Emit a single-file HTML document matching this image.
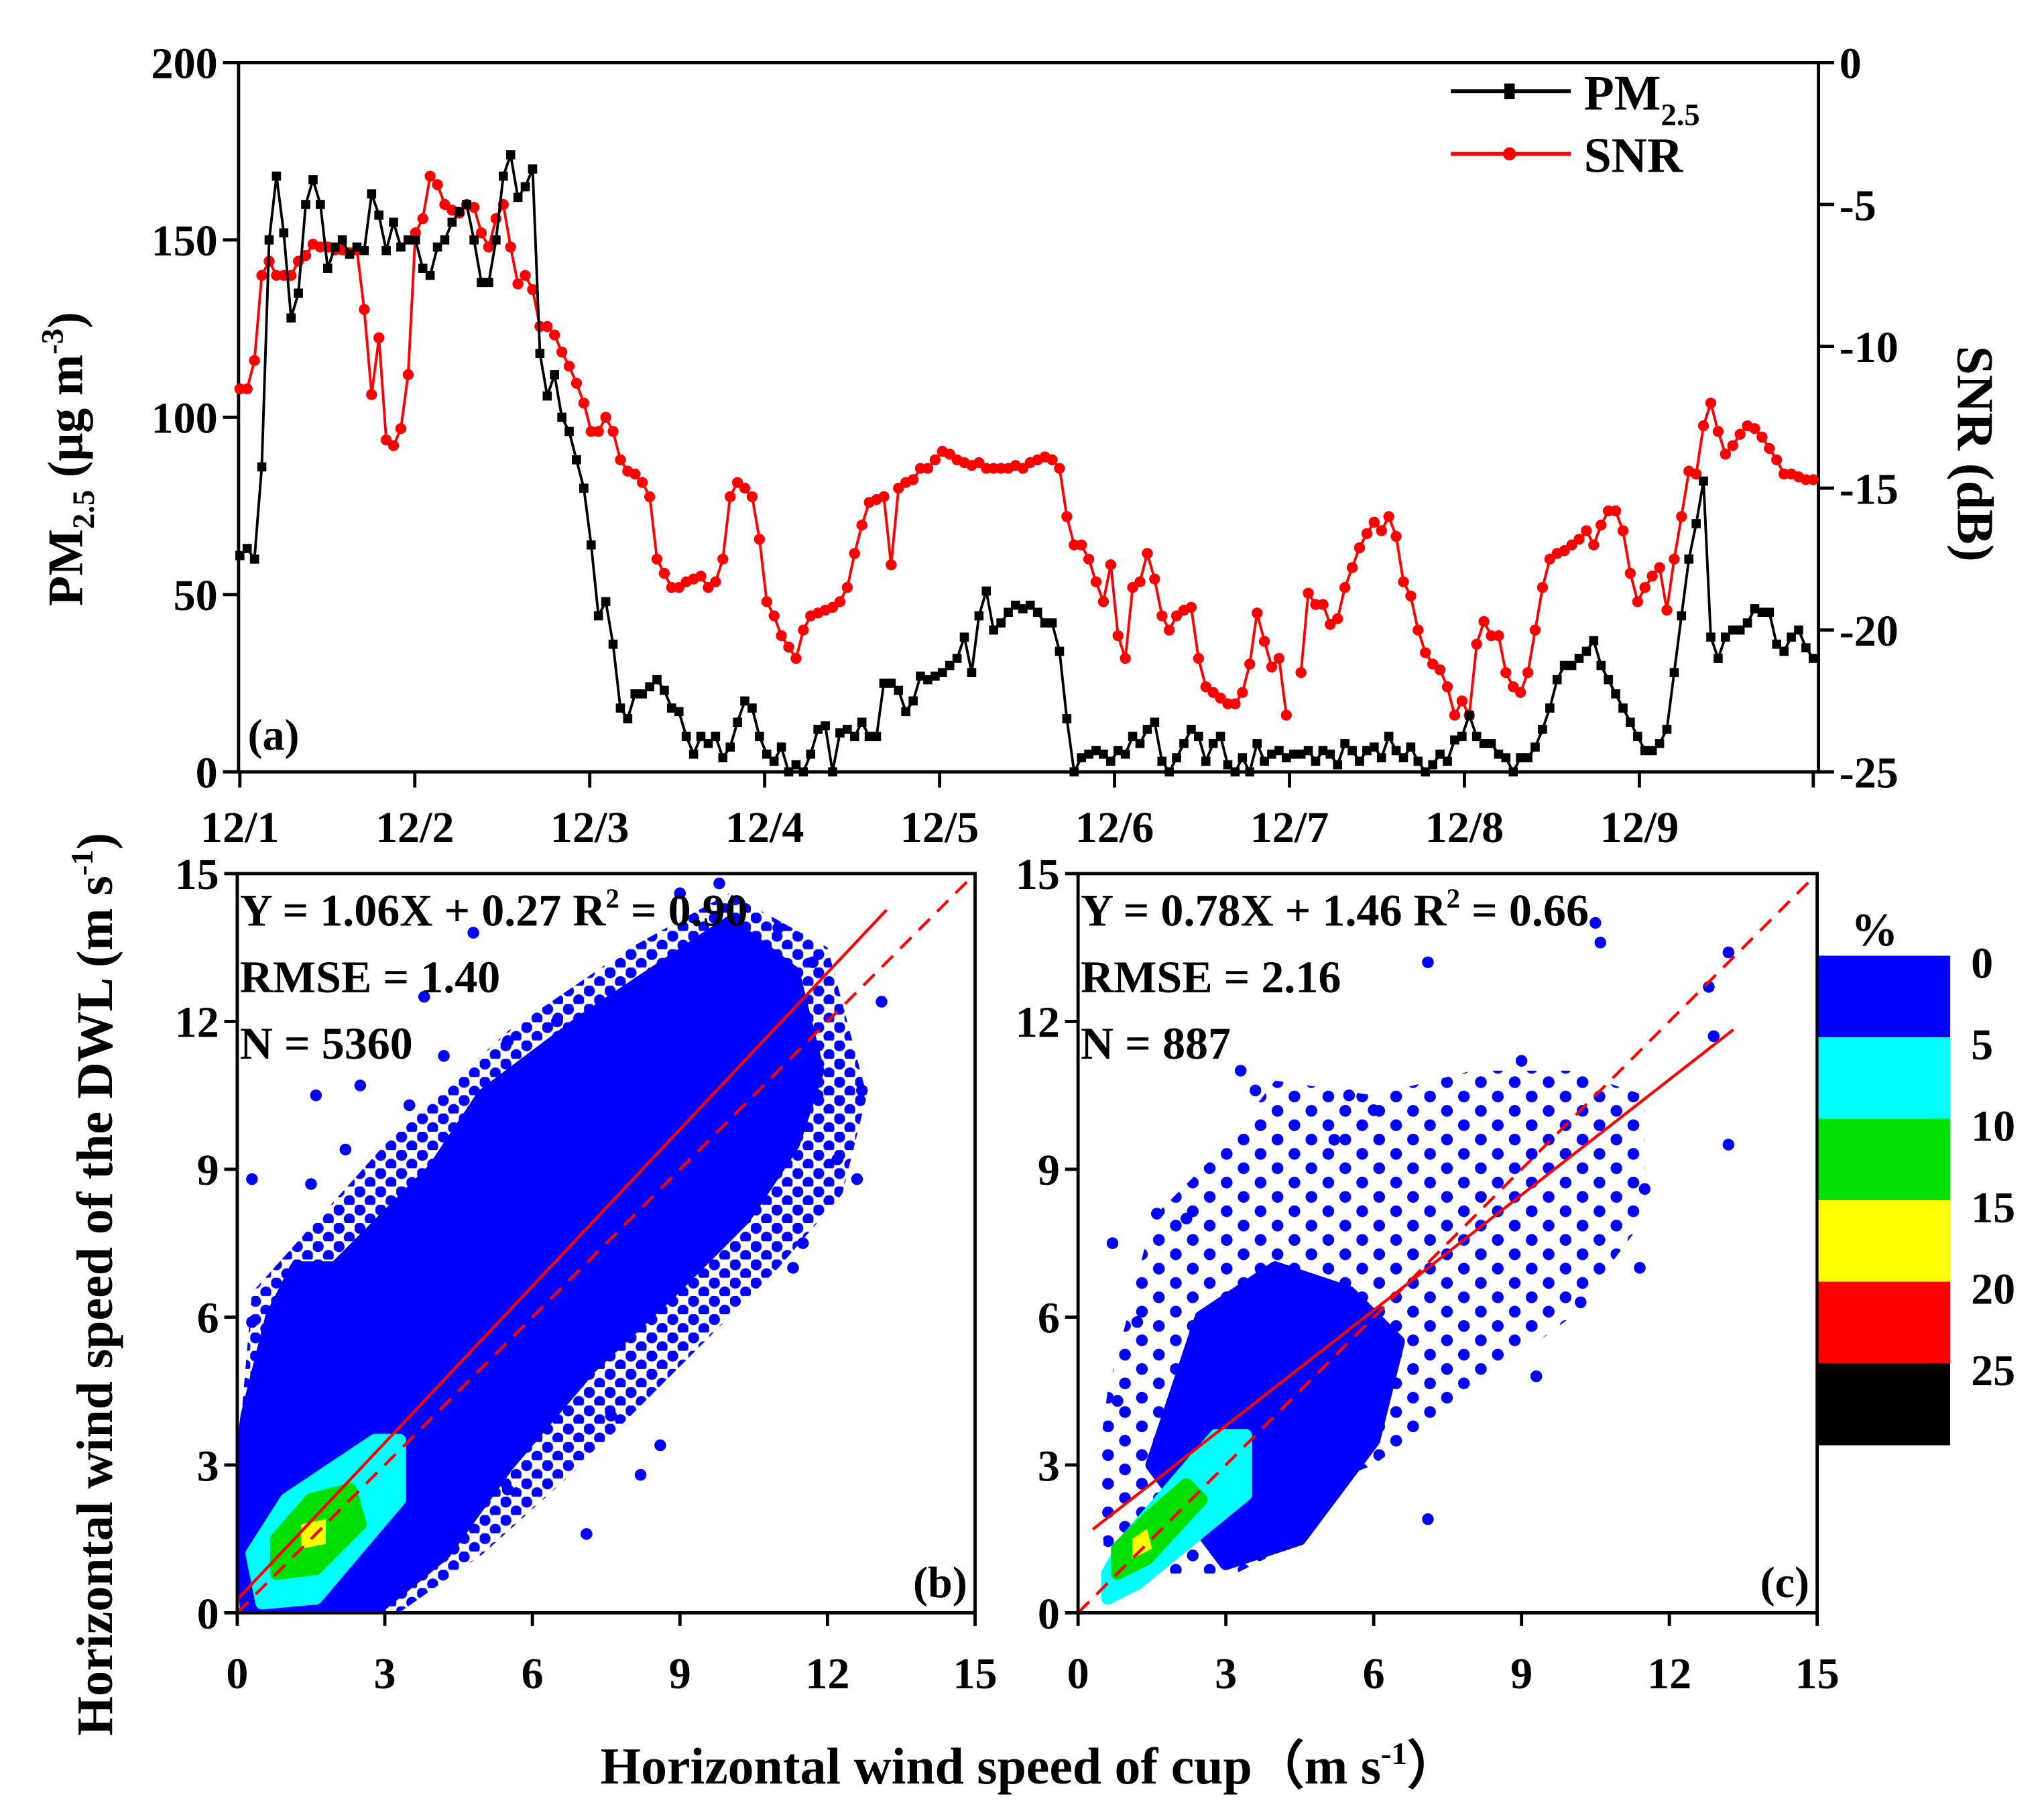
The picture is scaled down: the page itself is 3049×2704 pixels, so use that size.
<!DOCTYPE html>
<html><head><meta charset="utf-8"><style>
html,body{margin:0;padding:0;background:#fff}
svg{display:block}
text{font-family:"Liberation Serif",serif;font-weight:bold;fill:#000}
</style></head><body>
<svg id="fig" xmlns="http://www.w3.org/2000/svg" width="3049" height="2704" viewBox="0 0 1568 1390.5">
<defs>
<pattern id="dots" patternUnits="userSpaceOnUse" width="16" height="14"><circle cx="4" cy="4" r="4.3" fill="#0000ff"/><circle cx="12" cy="11" r="4.3" fill="#0000ff"/></pattern>
<pattern id="dotsSparse" patternUnits="userSpaceOnUse" width="26" height="22"><circle cx="5" cy="5" r="4.5" fill="#0000ff"/><circle cx="18" cy="16" r="4.5" fill="#0000ff"/></pattern>
</defs>
<rect width="1568" height="1391" fill="#fff"/>
<g id="topPanel"></g>
<g id="pb"></g>
<g id="pc"></g>
<g id="cb"></g>
<text transform="translate(63,352) rotate(-90)" text-anchor="middle" font-size="38">PM<tspan font-size="24" dy="9">2.5</tspan><tspan dy="-9"> (μg m</tspan><tspan font-size="24" dy="-15">-3</tspan><tspan dy="15">)</tspan></text>
<text transform="translate(1502,348) rotate(90)" text-anchor="middle" font-size="40">SNR (dB)</text>
<text transform="translate(86,985) rotate(-90)" text-anchor="middle" font-size="39">Horizontal wind speed of the DWL (m s<tspan font-size="24" dy="-15">-1</tspan><tspan dy="15">)</tspan></text>
<text x="790" y="1368" text-anchor="middle" font-size="40">Horizontal wind speed of cup（m s<tspan font-size="24" dy="-15">-1</tspan><tspan dy="15">）</tspan></text>
</svg>
<script>
const NS="http://www.w3.org/2000/svg";
function mk(p,t,a){const e=document.createElementNS(NS,t);for(const k in a)e.setAttribute(k,a[k]);p.appendChild(e);return e;}
// ---------- Top panel data ----------
const dayLabels=["12/1","12/2","12/3","12/4","12/5","12/6","12/7","12/8","12/9"];
const pmTicks=[0,50,100,150,200];
const snrTicks=[0,-5,-10,-15,-20,-25];
const pm25=[61,63,60,86,150,168,152,128,135,160,167,160,142,148,150,146,148,147,163,157,147,155,148,150,
150,142,140,148,150,155,158,160,150,138,138,150,168,174,162,165,170,118,106,112,100,96,88,80,
64,44,48,36,18,15,22,22,24,26,23,18,17,10,5,10,8,10,4,7,14,20,18,10,
5,3,7,0,2,0,5,12,13,0,11,12,10,14,10,10,25,25,23,17,20,27,26,27,
28,30,32,38,28,44,51,40,42,45,47,46,47,45,42,42,34,15,0,4,5,6,5,3,
6,5,10,8,12,14,3,0,4,8,12,10,3,8,10,2,0,4,0,8,3,5,6,4,
5,5,6,3,6,5,2,8,6,3,6,7,4,10,6,4,7,3,0,2,5,3,9,10,
16,10,8,8,5,4,0,4,4,7,12,18,26,30,30,32,34,37,30,26,22,18,14,10,
6,6,8,12,28,44,60,70,82,38,32,38,40,40,42,46,45,45,36,34,38,40,35,32];
const snr=[-11.5,-11.5,-10.5,-7.5,-7,-7.5,-7.5,-7.5,-7,-6.8,-6.4,-6.5,-6.5,-6.6,-6.6,-6.7,-6.6,-8.7,-11.7,-9.7,-13.3,-13.5,-12.9,-11,
-6,-5.5,-4,-4.3,-5,-5.2,-5.3,-5,-5.1,-6,-6.5,-5.5,-5,-6.5,-7.8,-7.5,-8,-9.3,-9.3,-9.6,-10.2,-10.7,-11.3,-12,
-13,-13,-12.5,-13,-14,-14.4,-14.5,-14.8,-15.3,-17.5,-18,-18.5,-18.5,-18.3,-18.2,-18.1,-18.5,-18.3,-17.5,-15.3,-14.8,-15,-15.3,-16.8,
-19,-19.5,-20.2,-20.6,-21,-20,-19.5,-19.4,-19.3,-19.2,-19,-18.5,-17.3,-16.3,-15.5,-15.4,-15.3,-17.7,-15,-14.8,-14.7,-14.3,-14.3,-14,
-13.7,-13.8,-14,-14.1,-14.2,-14.1,-14.3,-14.3,-14.3,-14.3,-14.2,-14.3,-14.1,-14,-13.9,-14,-14.3,-16,-17,-17,-17.5,-18.3,-19,-17.7,
-20.2,-21,-18.5,-18.3,-17.3,-18.2,-19.5,-20,-19.5,-19.3,-19.2,-21,-22,-22.2,-22.4,-22.6,-22.6,-22.2,-21.2,-19.4,-20.4,-21.3,-21,-23,
null,-21.5,-18.7,-19.1,-19.1,-19.8,-19.6,-18.5,-17.8,-17.1,-16.6,-16.2,-16.5,-16,-16.7,-18.3,-18.8,-20,-20.8,-21.2,-21.4,-22,-23,-22.5,
-23,-20.5,-19.7,-20.2,-20.2,-21.5,-22,-22.2,-21.5,-20,-18.5,-17.5,-17.3,-17.2,-17,-16.8,-16.5,-17,-16.3,-15.8,-15.8,-16.5,-18,-19,
-18.5,-18.1,-17.8,-19.3,-17.5,-16,-14.4,-14.5,-12.8,-12,-13,-13.8,-13.5,-13.1,-12.8,-12.9,-13.2,-13.6,-14,-14.5,-14.5,-14.6,-14.7,-14.7];
// ---------- Scatter data (data units, m/s) ----------
const fitB=[1.06,0.27], rangeB=[0,13.2];
const fitC=[0.78,1.46], rangeC=[0.3,13.3];
const statsB=["Y = 1.06X + 0.27 R","RMSE = 1.40","N = 5360"], r2B="0.90";
const statsC=["Y = 0.78X + 1.46 R","RMSE = 2.16","N = 887"], r2C="0.66";
const scatTicks=[0,3,6,9,12,15];
const hullB_sparse=[[0,0],[3,-0.2],[5,1.2],[7,3],[9,5],[11,7],[12.3,8.5],[12.8,10.5],[12,13.5],[10,14.6],[8,13.5],[5.5,11.8],[3,9.5],[1.2,7.5],[0.3,6.5],[0,3]];
const hullB_blue=[[0.2,-0.1],[2.6,-0.1],[4.2,1.2],[5.5,3],[7.2,5],[8.8,6.5],[10.3,8],[11.3,9.5],[11.8,11],[11.3,13],[10,14],[8.5,13],[7,12],[5,10.5],[4,9],[3,8],[2,7],[1.2,7],[0.7,6],[0.2,4],[0,2.5]];
const hullB_cyan=[[0.5,0.2],[1.6,0.3],[3.3,2.3],[3.3,3.5],[2.8,3.5],[1,2.3],[0.3,1.2]];
const hullB_green=[[0.8,0.8],[1.6,0.9],[2.5,1.8],[2.3,2.5],[1.5,2.3],[0.8,1.5]];
const hullB_yellow=[[1.3,1.3],[1.8,1.4],[1.8,1.9],[1.3,1.8]];
const hullC_sparse=[[0.6,0.3],[1.5,0.8],[3.2,0.8],[4.2,1.3],[4.7,2.5],[6,3],[8,4.5],[10,6],[11.5,8],[11.5,10.5],[10,11],[8,11],[6,10.5],[4,10.8],[3,9.5],[1.5,8],[1,6],[0.6,4.5],[0.4,3]];
const hullC_blue=[[1.5,3],[3,1],[4.5,1.5],[6,3.5],[6.5,5.5],[5.5,6.5],[4,7],[2.5,6]];
const hullC_cyan=[[0.6,0.3],[1.2,0.6],[3.4,2.4],[3.4,3.6],[2.8,3.6],[1,1.5],[0.6,0.8]];
const hullC_green=[[0.8,0.8],[1.4,1.1],[2.5,2.3],[2.2,2.6],[1.5,2],[0.8,1.3]];
const hullC_yellow=[[1.1,1.1],[1.5,1.3],[1.4,1.7],[1.1,1.5]];
const outB_x=[0.3,1.6,2.5,3.8,4.8,5.5,6.5,8.2,9.3,9.8,11.3,11.5,11.7,12.7,13.1,12.6,9.0,2.6,7.1,10.3,11.0,4.4,7.6,8.6,5.5,0.3,1.5,2.2,3.5,4.2,11.8,12.2];
const outB_y=[8.8,10.5,10.7,12.5,13.8,11.6,12.0,2.8,12.6,14.8,7.0,7.5,13.2,10.6,12.4,8.8,14.6,7.0,1.6,13.6,13.9,1.3,4.0,3.4,2.5,5.9,8.7,9.4,10.3,11.3,10.5,9.2];
const outC_x=[0.7,0.8,1.2,1.6,2.2,3.3,3.6,5.5,7.1,7.1,10.6,10.5,11.4,12.8,13.2,13.2,12.9,9.3,10.2,9.0,11.5,6.0,5.2];
const outC_y=[7.5,4.3,5.9,8.1,8.0,11.0,10.6,10.5,13.2,1.9,13.6,14.0,7.0,12.7,13.4,9.5,11.7,4.8,6.3,11.2,8.6,10.2,9.6];
const cbColors=["#0000ff","#00ffff","#00e000","#ffff00","#ff0000","#000000"];
const cbLabels=["0","5","10","15","20","25"];

// ---------- Top panel ----------
const T={l:183,r:1395,t:48,b:592,x0:184,dx:(1391-184)/215};
const topG=document.getElementById('topPanel');
const yPM=v=>T.b-(v/200)*(T.b-T.t);
const ySNR=v=>T.t+(-v/25)*(T.b-T.t);
const xH=i=>T.x0+i*T.dx;
let ax=mk(topG,'rect',{x:T.l,y:T.t,width:T.r-T.l,height:T.b-T.t,fill:'none',stroke:'#000','stroke-width':2.5});


pmTicks.forEach(v=>{const y=yPM(v);
 let l=mk(topG,'line',{x1:T.l-12,x2:T.l,y1:y,y2:y,stroke:'#000','stroke-width':2.5});
 
 
 let t=mk(topG,'text',{x:T.l-16,y:y+12,'text-anchor':'end','font-size':34});t.textContent=v;
 
 });
snrTicks.forEach(v=>{const y=ySNR(v);
 let l=mk(topG,'line',{x1:T.r,x2:T.r+12,y1:y,y2:y,stroke:'#000','stroke-width':2.5});
 
 
 let t=mk(topG,'text',{x:T.r+16,y:y+12,'font-size':34});t.textContent=v;
 
 });
dayLabels.forEach((d,i)=>{const x=184+i*134.2;
 let l=mk(topG,'line',{x1:x,x2:x,y1:T.b,y2:T.b+12,stroke:'#000','stroke-width':2.5});
 
 
 let t=mk(topG,'text',{x:x,y:T.b+54,'text-anchor':'middle','font-size':34});t.textContent=d;
 
 });
let lt=mk(topG,'line',{x1:1391,x2:1391,y1:T.b,y2:T.b+12,stroke:'#000','stroke-width':2.5});


function series(arr,yf,col,name,marker){
 let d='',pen=false;
 arr.forEach((v,i)=>{if(v===null){pen=false;return;}d+=(pen?'L':'M')+xH(i).toFixed(1)+','+yf(v).toFixed(1);pen=true;});
 let p=mk(topG,'path',{d:d,fill:'none',stroke:col,'stroke-width':2});
 
 
 arr.forEach((v,i)=>{if(v===null)return;let m;
  if(marker==='sq')m=mk(topG,'rect',{x:xH(i)-3.5,y:yf(v)-3.5,width:7,height:7,fill:col});
  else m=mk(topG,'circle',{cx:xH(i),cy:yf(v),r:4.2,fill:col});
  
  });
}
series(snr,ySNR,'#ff0000','snr','c');
series(pm25,yPM,'#000','pm25','sq');
// legend
let lg=mk(topG,'g',{});


let l1=mk(lg,'line',{x1:1113,x2:1205,y1:70,y2:70,stroke:'#000','stroke-width':3});


let r1=mk(lg,'rect',{x:1154,y:64,width:8,height:12,fill:'#000'});


let t1=mk(lg,'text',{x:1215,y:84,'font-size':38});t1.innerHTML='PM<tspan font-size="24" dy="12">2.5</tspan>';


let l2=mk(lg,'line',{x1:1113,x2:1205,y1:118,y2:118,stroke:'#f00','stroke-width':3});


let c2=mk(lg,'circle',{cx:1158,cy:118,r:5,fill:'#f00'});


let t2=mk(lg,'text',{x:1215,y:132,'font-size':38});t2.textContent='SNR';


let pa=mk(topG,'text',{x:190,y:575,'font-size':34});pa.textContent='(a)';



// ---------- Scatter panels ----------
function scatter(gid,L,R,hulls,ox,oy,fit,rng,stats,r2,lab){
 const g=document.getElementById(gid);const Tp=670,B=1237;
 const X=v=>L+v/15*(R-L), Y=v=>B-v/15*(B-Tp);
 let cp=mk(g,'clipPath',{id:gid+'clip'});mk(cp,'rect',{x:L,y:Tp,width:R-L,height:B-Tp});
 const cg=mk(g,'g',{'clip-path':'url(#'+gid+'clip)'});
 hulls.forEach(h=>{const pts=h.pts.map(p=>X(p[0]).toFixed(1)+','+Y(p[1]).toFixed(1)).join(' ');
  let p=mk(cg,'polygon',{points:pts,fill:h.c,stroke:h.s||'none','stroke-width':h.s?10:0,'stroke-linejoin':'round'});
  
  });
 ox.forEach((x,i)=>{let c=mk(cg,'circle',{cx:X(x),cy:Y(oy[i]),r:4.5,fill:'#0000ff'});
  
  });
 let d=mk(cg,'line',{x1:X(0),y1:Y(0),x2:X(15),y2:Y(15),stroke:'#f00','stroke-width':2.2,'stroke-dasharray':'12,8'});
 
 
 let f=mk(cg,'line',{x1:X(rng[0]),y1:Y(fit[0]*rng[0]+fit[1]),x2:X(rng[1]),y2:Y(fit[0]*rng[1]+fit[1]),stroke:'#f00','stroke-width':2.2});
 
 
 let fr=mk(g,'rect',{x:L,y:Tp,width:R-L,height:B-Tp,fill:'none',stroke:'#000','stroke-width':2.5});
 
 
 scatTicks.forEach(v=>{
  let a=mk(g,'line',{x1:L-10,x2:L,y1:Y(v),y2:Y(v),stroke:'#000','stroke-width':2.5});
  
  
  let b=mk(g,'line',{x1:X(v),x2:X(v),y1:B,y2:B+10,stroke:'#000','stroke-width':2.5});
  
  
  let t=mk(g,'text',{x:L-14,y:Y(v)+12,'text-anchor':'end','font-size':34});t.textContent=v;
  
  
  let u=mk(g,'text',{x:X(v),y:B+58,'text-anchor':'middle','font-size':34});u.textContent=v;
  
  });
 stats.forEach((s,i)=>{let t=mk(g,'text',{x:L+2,y:710+i*51,'font-size':35});
  if(i===0)t.innerHTML=s+'<tspan font-size="21" dy="-14">2</tspan><tspan dy="14"> = '+r2+'</tspan>';else t.textContent=s;
  
  });
 let pl=mk(g,'text',{x:R-6,y:B-12,'text-anchor':'end','font-size':34});pl.textContent=lab;
 
 
}
scatter('pb',182,748,[{pts:hullB_sparse,c:'url(#dots)',n:'density-sparse'},{pts:hullB_blue,c:'#0000ff',s:'#0000ff',n:'density-0-5'},{pts:hullB_cyan,c:'#00ffff',s:'#00ffff',n:'density-5-10'},{pts:hullB_green,c:'#00e000',s:'#00e000',n:'density-10-15'},{pts:hullB_yellow,c:'#ffff00',n:'density-15-20'}],outB_x,outB_y,fitB,rangeB,statsB,r2B,'(b)');
scatter('pc',827,1394,[{pts:hullC_sparse,c:'url(#dotsSparse)',n:'density-sparse'},{pts:hullC_blue,c:'#0000ff',s:'#0000ff',n:'density-0-5'},{pts:hullC_cyan,c:'#00ffff',s:'#00ffff',n:'density-5-10'},{pts:hullC_green,c:'#00e000',s:'#00e000',n:'density-10-15'},{pts:hullC_yellow,c:'#ffff00',n:'density-15-20'}],outC_x,outC_y,fitC,rangeC,statsC,r2C,'(c)');

// ---------- Colorbar ----------
const cbG=document.getElementById('cb');
cbColors.forEach((c,i)=>{let r=mk(cbG,'rect',{x:1395,y:733+i*62.5,width:101,height:63,fill:c});
 
 
 let t=mk(cbG,'text',{x:1512,y:750+i*62.5,'font-size':34});t.textContent=cbLabels[i];
 
 });
let pct=mk(cbG,'text',{x:1420,y:725,'font-size':36});pct.textContent='%';


</script>
</body></html>
